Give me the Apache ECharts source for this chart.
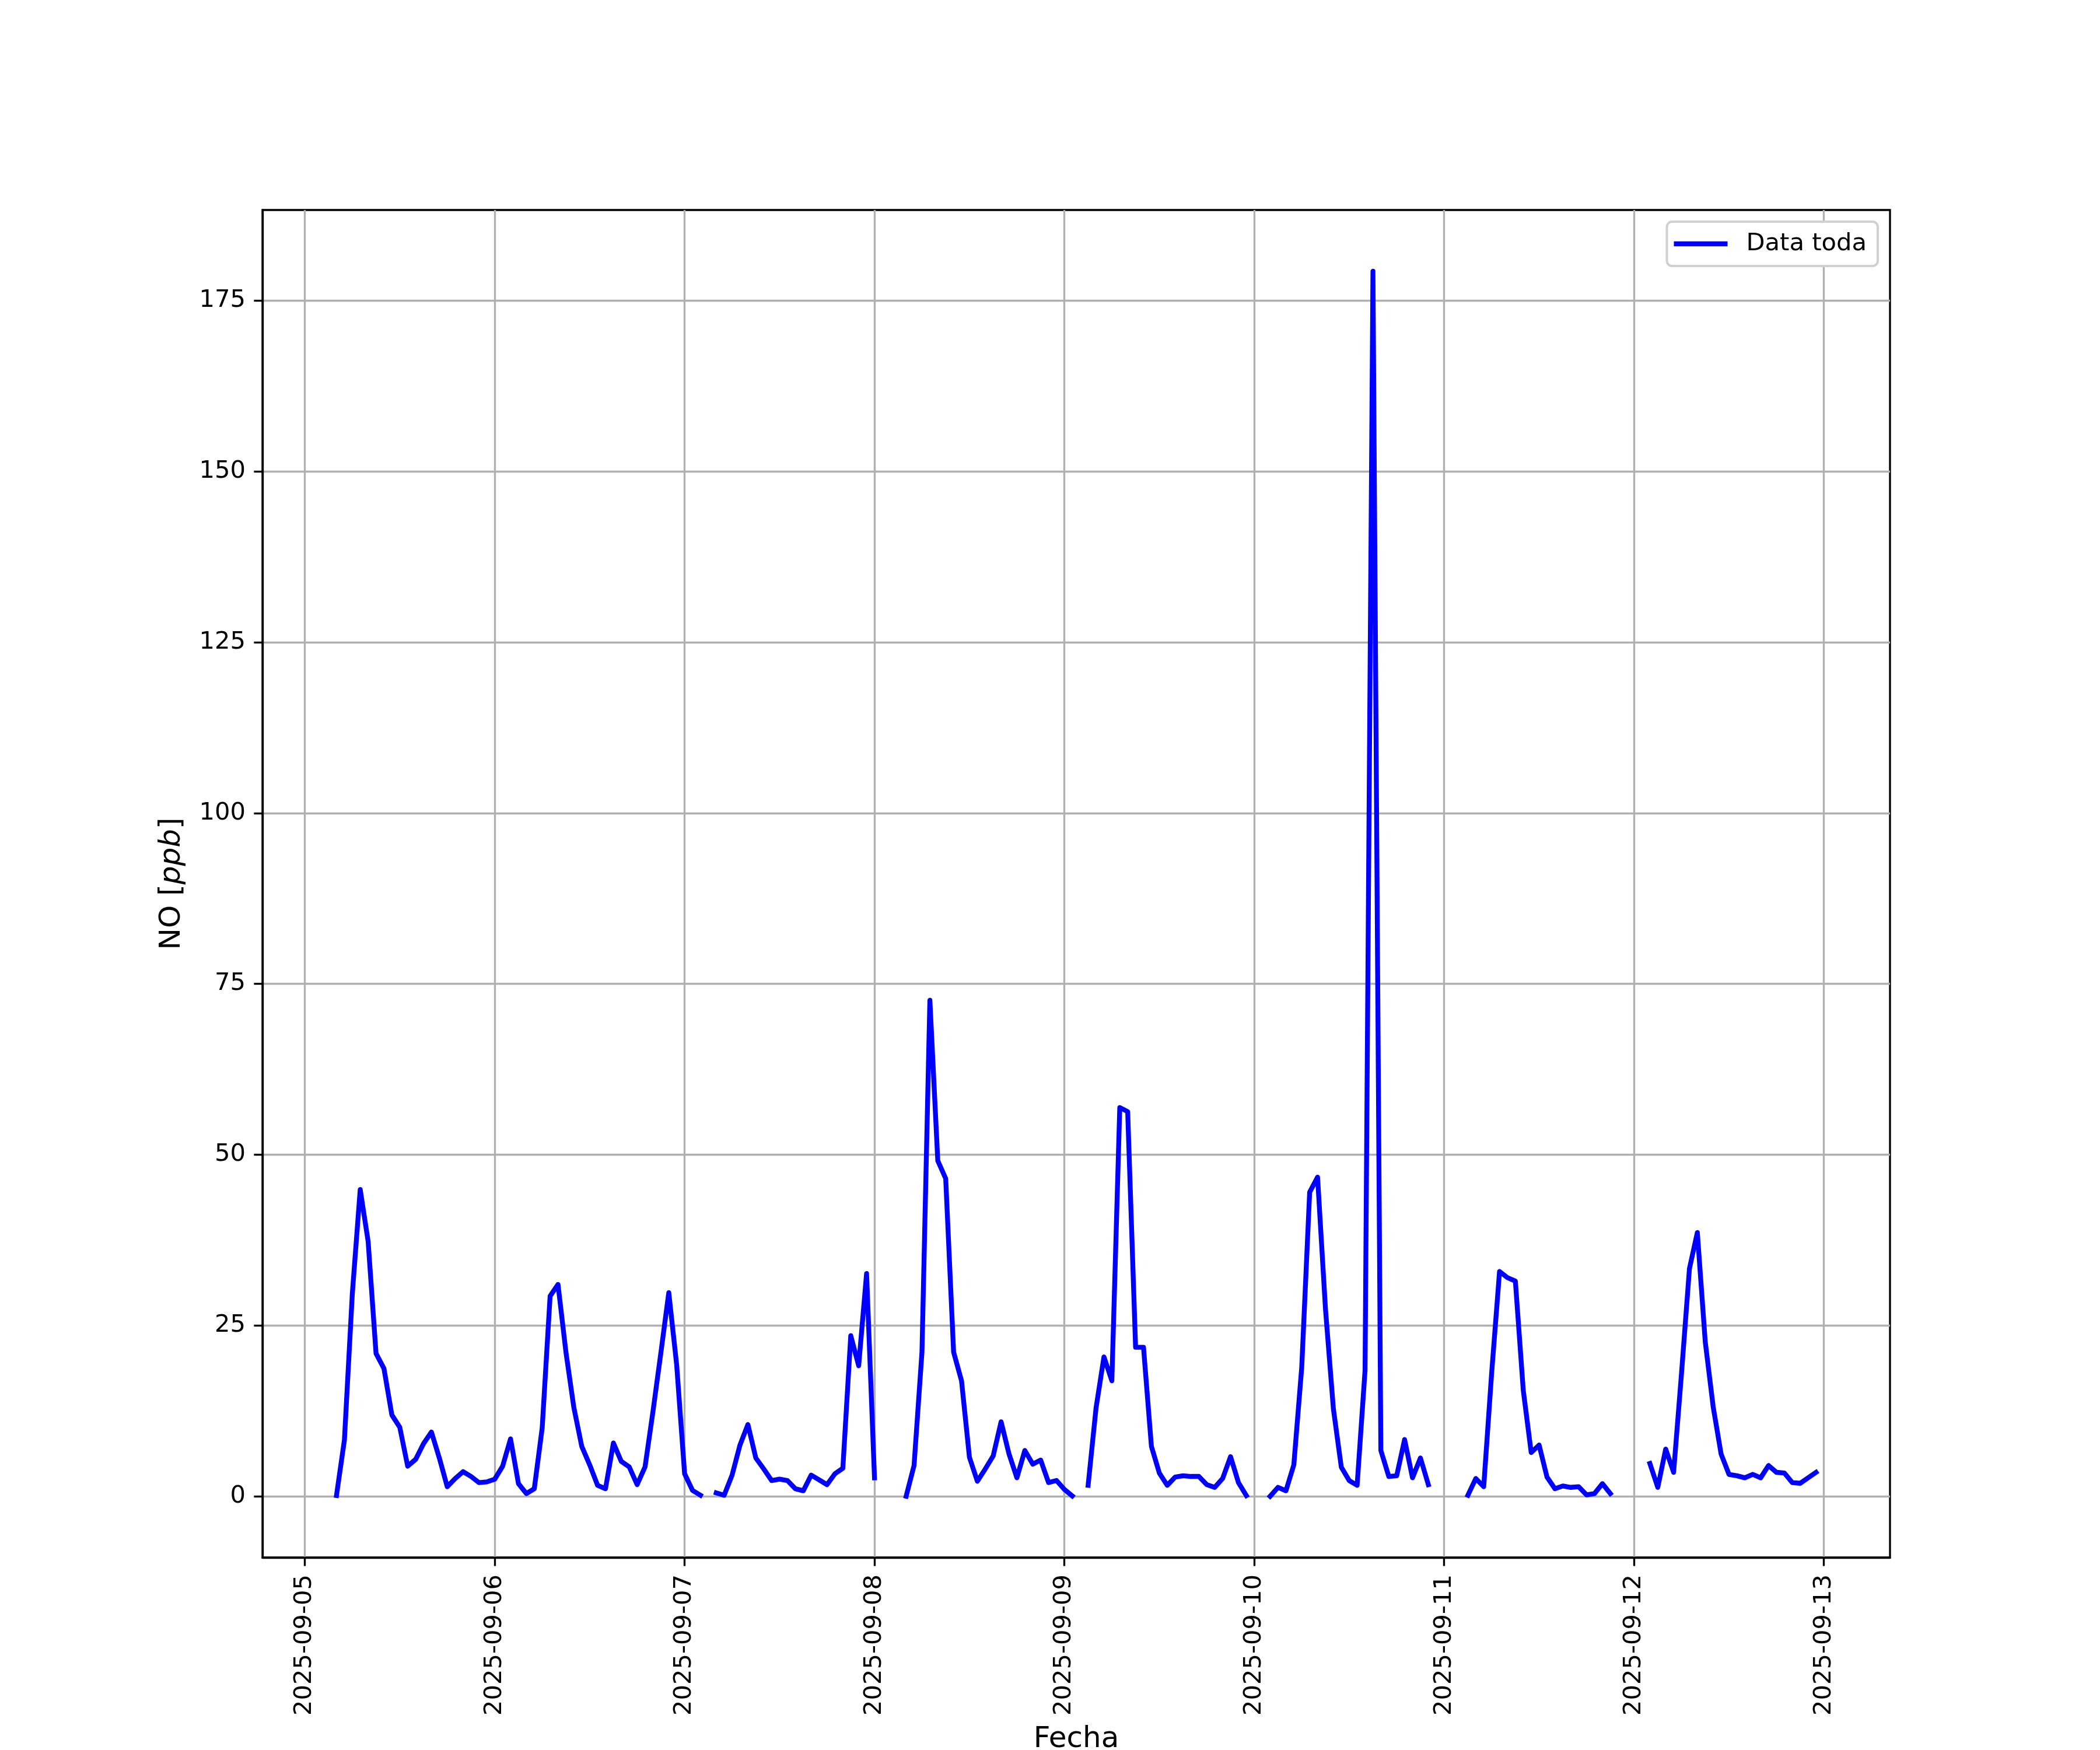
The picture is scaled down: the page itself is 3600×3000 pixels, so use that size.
<!DOCTYPE html>
<html>
<head>
<meta charset="utf-8">
<script src="https://cdn.jsdelivr.net/npm/echarts@6/dist/echarts.min.js"></script>
<style>
  html, body { margin: 0; padding: 0; background: #fff; }
  #chart { width: 3600px; height: 3000px; }
</style>
</head>
<body>
<div id="chart"></div>
<script>
// Hourly NO [ppb] values, one array per day (hour 0..23); null = missing hour
const sep05 = [null, null, null, null, 0.1, 8.2, 29.6, 44.9, 37.3, 20.9, 18.7, 11.9, 10.1, 4.4, 5.4, 7.7, 9.4, 5.6, 1.4, 2.6, 3.6, 2.9, 2.0, 2.1];
const sep06 = [2.5, 4.4, 8.4, 1.85, 0.4, 1.1, 10.0, 29.3, 31.0, 21.1, 13.0, 7.3, 4.6, 1.6, 1.1, 7.8, 5.1, 4.3, 1.7, 4.3, 12.4, 21.0, 29.8, 19.2];
const sep07 = [3.3, 0.85, 0.15, null, 0.5, 0.15, 3.1, 7.5, 10.5, 5.6, 4.0, 2.3, 2.5, 2.3, 1.1, 0.8, 3.1, 2.4, 1.7, 3.3, 4.1, 23.5, 19.1, 32.6];
const sep08 = [2.7, null, null, null, 0.0, 4.5, 21.1, 72.6, 49.1, 46.5, 21.1, 16.9, 5.7, 2.2, 4.0, 5.9, 10.9, 6.2, 2.7, 6.7, 4.7, 5.3, 2.0, 2.3];
const sep09 = [1.0, 0.05, null, 1.6, 12.9, 20.4, 16.9, 56.9, 56.3, 21.8, 21.8, 7.3, 3.4, 1.6, 2.8, 3.0, 2.9, 2.9, 1.7, 1.3, 2.6, 5.8, 2.0, 0.1];
const sep10 = [null, null, 0.0, 1.3, 0.8, 4.6, 18.9, 44.5, 46.7, 27.4, 12.8, 4.25, 2.3, 1.6, 18.4, 179.3, 6.7, 2.9, 3.0, 8.3, 2.7, 5.6, 1.7, null];
const sep11 = [null, null, null, 0.15, 2.6, 1.4, 18.0, 32.9, 32.0, 31.5, 15.5, 6.4, 7.5, 2.8, 1.1, 1.5, 1.3, 1.4, 0.2, 0.4, 1.85, 0.4, null, null];
const sep12 = [null, null, 4.8, 1.3, 6.9, 3.5, 18.0, 33.3, 38.6, 22.6, 13.1, 6.2, 3.2, 3.0, 2.7, 3.2, 2.7, 4.5, 3.5, 3.4, 2.0, 1.9, 2.7, 3.5];

const days = [sep05, sep06, sep07, sep08, sep09, sep10, sep11, sep12];
const dateLabels = ['2025-09-05', '2025-09-06', '2025-09-07', '2025-09-08', '2025-09-09', '2025-09-10', '2025-09-11', '2025-09-12', '2025-09-13'];
const yTickValues = [0, 25, 50, 75, 100, 125, 150, 175];
const seriesName = 'Data toda';

// Build [hourSinceStart, value] pairs
const points = [];
days.forEach((d, di) => d.forEach((v, h) => points.push([di * 24 + h, v === null ? '-' : v])));
const valid = points.filter(p => p[1] !== '-');
const xs = valid.map(p => p[0]), ys = valid.map(p => p[1]);
const xLo = Math.min(...xs), xHi = Math.max(...xs);
const yLo = Math.min(...ys), yHi = Math.max(...ys);
const xPad = 0.05 * (xHi - xLo), yPad = 0.05 * (yHi - yLo);
const xTickValues = dateLabels.map((_, i) => i * 24);

const FONT = 'DejaVu Sans';
const chart = echarts.init(document.getElementById('chart'), null, { renderer: 'canvas' });
chart.setOption({
  backgroundColor: '#ffffff',
  animation: false,
  textStyle: { fontFamily: FONT },
  grid: { left: 450, right: 360, top: 360, bottom: 330, containLabel: false, outerBoundsMode: 'none',
    show: true, borderColor: '#000', borderWidth: 3.33, backgroundColor: 'transparent' },
  legend: {
    right: 381, top: 380,
    data: [{ name: seriesName, icon: 'rect' }],
    itemWidth: 92, itemHeight: 8.33,
    padding: [17, 19, 17, 12],
    backgroundColor: '#fff',
    borderColor: '#d0d0d0', borderWidth: 4, borderRadius: 9,
    textStyle: { fontSize: 41.67, color: '#000', fontFamily: FONT, padding: [0, 0, 0, 27] }
  },
  xAxis: {
    type: 'value', min: xLo - xPad, max: xHi + xPad,
    name: 'Fecha', nameLocation: 'middle', nameGap: 287,
    nameTextStyle: { fontSize: 50, color: '#000', fontFamily: FONT },
    axisLine: { show: true, onZero: false, lineStyle: { color: '#000', width: 3.33 } },
    axisTick: { show: true, customValues: xTickValues, length: 14.6, lineStyle: { color: '#000', width: 3.33 } },
    axisLabel: { customValues: xTickValues, rotate: 90, margin: 29, fontSize: 41.67, color: '#000', fontFamily: FONT,
      formatter: v => dateLabels[Math.round(v / 24)] },
    splitLine: { show: true, lineStyle: { color: '#b0b0b0', width: 3.33 } }
  },
  yAxis: {
    type: 'value', min: yLo - yPad, max: yHi + yPad,
    name: 'NO [{i|ppb}]', nameLocation: 'middle', nameGap: 130, nameRotate: 90,
    nameTextStyle: { fontSize: 50, color: '#000', fontFamily: FONT,
      rich: { i: { fontSize: 50, fontStyle: 'italic', color: '#000', fontFamily: FONT } } },
    axisLine: { show: true, onZero: false, lineStyle: { color: '#000', width: 3.33 } },
    axisTick: { show: true, customValues: yTickValues, length: 14.6, lineStyle: { color: '#000', width: 3.33 } },
    axisLabel: { customValues: yTickValues, margin: 29, fontSize: 41.67, color: '#000', fontFamily: FONT },
    splitLine: { show: true, lineStyle: { color: '#b0b0b0', width: 3.33 } }
  },
  series: [{
    name: seriesName, type: 'line', data: points,
    showSymbol: false, connectNulls: false,
    lineStyle: { color: '#0000ff', width: 8.33, join: 'round', cap: 'square' },
    itemStyle: { color: '#0000ff' }
  }]
});
</script>
</body>
</html>
